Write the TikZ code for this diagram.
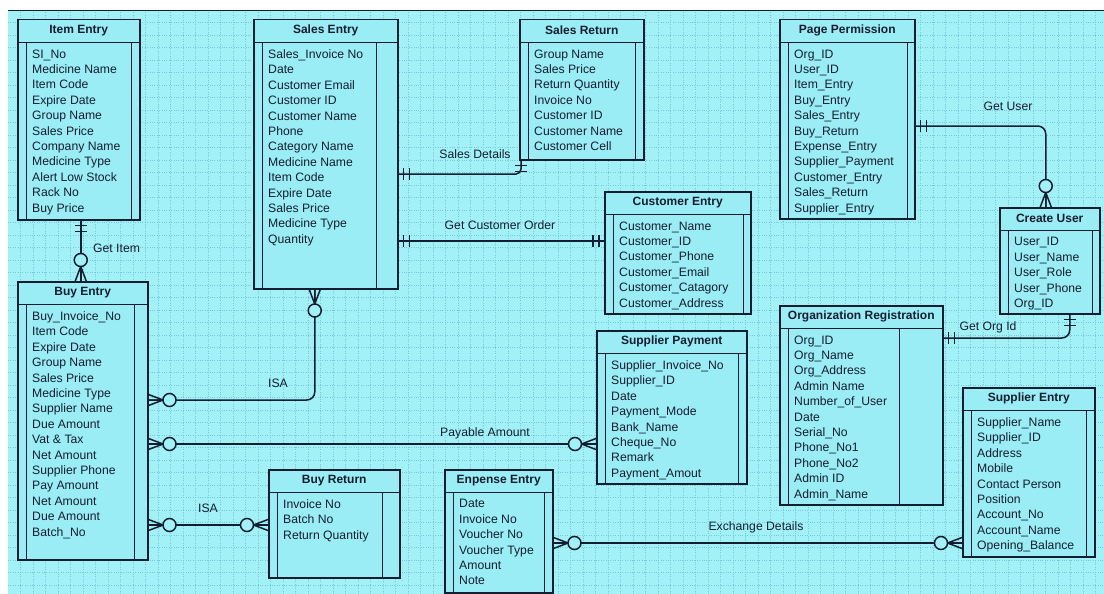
\documentclass[tikz,border=0pt]{standalone}
\usepackage{fontspec}
\setmainfont{Liberation Sans}
\definecolor{bgcyan}{RGB}{162,241,246}
\definecolor{boxfill}{RGB}{154,237,244}
\definecolor{gridcol}{RGB}{122,198,218}
\definecolor{erdark}{RGB}{20,30,48}

% one table: name, top left corner, width, height, right strip, title, rows
\newcommand{\erentity}[7]{%
  \node[entity, minimum width=#3pt, minimum height=#4pt] (#1) at #2 {};
  \node[etitle] (#1t) at (#1.north) {#6};
  \draw[erline] (#1t.south -| #1.west) -- (#1t.south -| #1.east);
  \draw[erline] ([xshift=9.5pt]#1.west |- #1t.south) -- ([xshift=9.5pt]#1.south west);
  \draw[erline] ([xshift=-#5pt]#1.east |- #1t.south) -- ([xshift=-#5pt]#1.south east);
  \node[erows] (#1r) at ([xshift=15pt,yshift=-7pt]#1t.south -| #1.west) {#7};
}

\begin{document}
\begin{tikzpicture}[x=1pt, y=-1pt,
    erline/.style={draw=erdark, line width=1.5pt},
    entity/.style={erline, fill=boxfill, inner sep=0pt, anchor=north west},
    etitle/.style={anchor=north, minimum height=23pt, inner sep=0pt, text=erdark, font=\bfseries\fontsize{12}{14}\selectfont},
    erows/.style={anchor=north west, inner sep=0pt, align=left, text=erdark, font=\fontsize{12.2}{15.4}\selectfont},
    lbl/.style={inner sep=1pt, text=erdark, font=\fontsize{12.2}{14}\selectfont},
    gridline/.style={draw=gridcol, line width=0.4pt, dotted},
    crowfoot/.pic={\draw[erline] (0,-5.5) -- (14.5,0) -- (0,5.5) (0,0) -- (14.5,0);
      \draw[erline, fill=bgcyan] (21,0) circle (6.5pt);},
    onebar/.pic={\draw[erline] (5,-6) -- (5,6) (11,-6) -- (11,6);}]
    \useasboundingbox (0,0) rectangle (1104,594);
    \fill[white] (0,0) rectangle (1104,594);
    \fill[bgcyan] (8,10) rectangle (1104,594);
    \foreach \gx in {20.5,33,...,1104} \draw[gridline] (\gx,10) -- (\gx,594);
    \foreach \gy in {22.5,35,...,594} \draw[gridline] (8,\gy) -- (1104,\gy);
    \draw[erline, line width=0.8pt] (8,10) -- (1104,10);

    % tables
    \erentity{item}{(17,19)}{122}{200}{9}{Item Entry}{SI\_No\\Medicine Name\\Item Code\\Expire Date\\Group Name\\Sales Price\\Company Name\\Medicine Type\\Alert Low Stock\\Rack No\\Buy Price}
    \erentity{buy}{(17,281)}{130}{278}{14}{Buy Entry}{Buy\_Invoice\_No\\Item Code\\Expire Date\\Group Name\\Sales Price\\Medicine Type\\Supplier Name\\Due Amount\\Vat \& Tax\\Net Amount\\Supplier Phone\\Pay Amount\\Net Amount\\Due Amount\\Batch\_No}
    \erentity{sales}{(253,19)}{144}{269}{22}{Sales Entry}{Sales\_Invoice No\\Date\\Customer Email\\Customer ID\\Customer Name\\Phone\\Category Name\\Medicine Name\\Item Code\\Expire Date\\Sales Price\\Medicine Type\\Quantity}
    \erentity{sret}{(519,19)}{124}{140}{9}{Sales Return}{Group Name\\Sales Price\\Return Quantity\\Invoice No\\Customer ID\\Customer Name\\Customer Cell}
    \erentity{cust}{(604,191)}{146}{122}{8}{Customer Entry}{Customer\_Name\\Customer\_ID\\Customer\_Phone\\Customer\_Email\\Customer\_Catagory\\Customer\_Address}
    \erentity{perm}{(779,19)}{135}{199}{8}{Page Permission}{Org\_ID\\User\_ID\\Item\_Entry\\Buy\_Entry\\Sales\_Entry\\Buy\_Return\\Expense\_Entry\\Supplier\_Payment\\Customer\_Entry\\Sales\_Return\\Supplier\_Entry}
    \erentity{user}{(999,207)}{100}{106}{8}{Create User}{User\_ID\\User\_Name\\User\_Role\\User\_Phone\\Org\_ID}
    \erentity{org}{(779,305)}{163}{199}{44}{Organization Registration}{Org\_ID\\Org\_Name\\Org\_Address\\Admin Name\\Number\_of\_User\\Date\\Serial\_No\\Phone\_No1\\Phone\_No2\\Admin ID\\Admin\_Name}
    \erentity{spay}{(596,330)}{150}{153}{9}{Supplier Payment}{Supplier\_Invoice\_No\\Supplier\_ID\\Date\\Payment\_Mode\\Bank\_Name\\Cheque\_No\\Remark\\Payment\_Amout}
    \erentity{supp}{(962,387)}{132}{169}{9}{Supplier Entry}{Supplier\_Name\\Supplier\_ID\\Address\\Mobile\\Contact Person\\Position\\Account\_No\\Account\_Name\\Opening\_Balance}
    \erentity{bret}{(268,469)}{131}{108}{18}{Buy Return}{Invoice No\\Batch No\\Return Quantity}
    \erentity{exp}{(444,469)}{108}{123}{9}{Enpense Entry}{Date\\Invoice No\\Voucher No\\Voucher Type\\Amount\\Note}

    % Get Item
    \draw[erline] ([xshift=2pt]item.south) -- ([xshift=2pt]item.south |- buy.north);
    \pic[rotate=-90] at ([xshift=2pt]item.south) {onebar};
    \pic[rotate=90] at ([xshift=2pt]item.south |- buy.north) {crowfoot};
    \node[lbl, anchor=west] (lgetitem) at (92,248) {Get Item};

    % ISA to sales
    \draw[erline, rounded corners=8pt] ([yshift=-119pt]buy.north east) -| ([xshift=-11pt]sales.south);
    \pic at ([yshift=-119pt]buy.north east) {crowfoot};
    \pic[rotate=-90] at ([xshift=-11pt]sales.south) {crowfoot};
    \node[lbl] (lisasales) at (278,383) {ISA};

    % Payable Amount
    \draw[erline] ([yshift=-163pt]buy.north east) -- ([yshift=-163pt]buy.north east -| spay.west);
    \pic at ([yshift=-163pt]buy.north east) {crowfoot};
    \pic[rotate=180] at ([yshift=-163pt]buy.north east -| spay.west) {crowfoot};
    \node[lbl] (lpayable) at (485,433) {Payable Amount};

    % ISA to buy return
    \draw[erline] ([yshift=-244pt]buy.north east) -- ([yshift=-244pt]buy.north east -| bret.west);
    \pic at ([yshift=-244pt]buy.north east) {crowfoot};
    \pic[rotate=180] at ([yshift=-244pt]buy.north east -| bret.west) {crowfoot};
    \node[lbl] (lisaret) at (208,508) {ISA};

    % Exchange Details
    \draw[erline] ([yshift=-74pt]exp.north east) -- ([yshift=-74pt]exp.north east -| supp.west);
    \pic at ([yshift=-74pt]exp.north east) {crowfoot};
    \pic[rotate=180] at ([yshift=-74pt]exp.north east -| supp.west) {crowfoot};
    \node[lbl] (lexchange) at (756,527) {Exchange Details};

    % Sales Details
    \draw[erline, rounded corners=5pt] ([yshift=-155pt]sales.north east) -| ([xshift=2pt]sret.south west);
    \pic at ([yshift=-155pt]sales.north east) {onebar};
    \pic[rotate=-90] at ([xshift=2pt]sret.south west) {onebar};
    \node[lbl] (lsalesdet) at (475,154) {Sales Details};

    % Get Customer Order
    \draw[erline] ([yshift=-222pt]sales.north east) -- ([yshift=-222pt]sales.north east -| cust.west);
    \pic at ([yshift=-222pt]sales.north east) {onebar};
    \pic[rotate=180] at ([yshift=-222pt]sales.north east -| cust.west) {onebar};
    \node[lbl] (lcustorder) at (500,225) {Get Customer Order};

    % Get User
    \draw[erline, rounded corners=8pt] ([yshift=-107pt]perm.north east) -| ([xshift=-4pt]user.north);
    \pic at ([yshift=-107pt]perm.north east) {onebar};
    \pic[rotate=90] at ([xshift=-4pt]user.north) {crowfoot};
    \node[lbl] (lgetuser) at (1008,106) {Get User};

    % Get Org Id
    \draw[erline, rounded corners=8pt] ([yshift=-33pt]org.north east) -| ([xshift=20pt]user.south);
    \pic at ([yshift=-33pt]org.north east) {onebar};
    \pic[rotate=-90] at ([xshift=20pt]user.south) {onebar};
    \node[lbl] (lgetorg) at (988,327) {Get Org Id};
\end{tikzpicture}
\end{document}
